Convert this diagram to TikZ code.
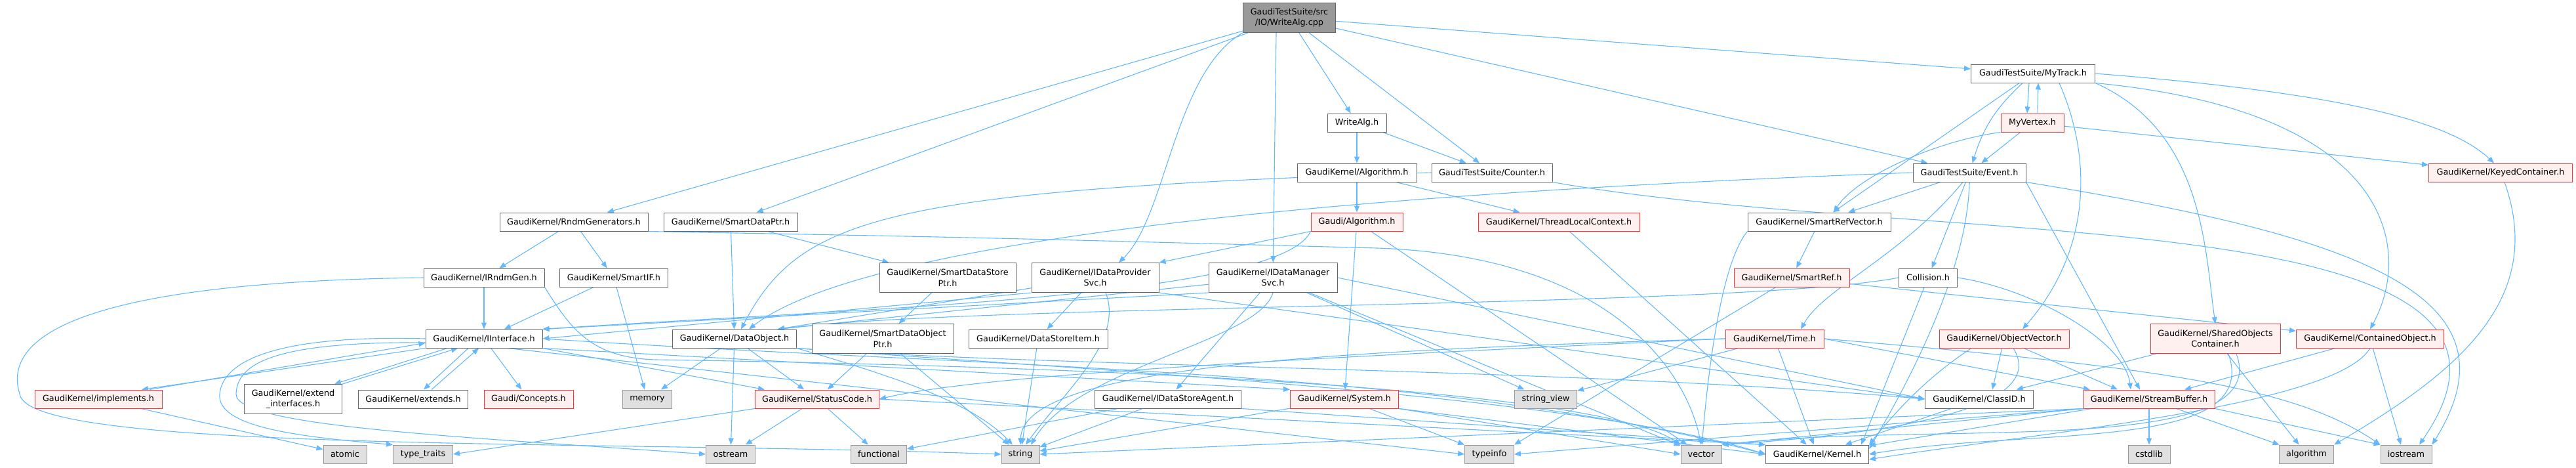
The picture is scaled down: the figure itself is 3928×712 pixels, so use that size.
\documentclass[tikz,border=0pt]{standalone}
\usepackage{fontspec}
\setmainfont{DejaVu Sans}
\usetikzlibrary{arrows.meta,backgrounds}

\definecolor{edgeblue}{HTML}{63B8FF}
\definecolor{boxgray}{HTML}{666666}
\definecolor{sysgray}{HTML}{999999}
\definecolor{sysfill}{HTML}{E0E0E0}
\definecolor{redfill}{HTML}{FFF0F0}
\definecolor{redline}{HTML}{FF3333}

\begin{document}
\begin{tikzpicture}[x=0.5pt,y=-0.5pt,>={Triangle[length=5pt,width=4pt]},
  box/.style={draw=boxgray,fill=white,line width=0.5pt,inner sep=0pt,minimum height=14pt,align=center,font=\fontsize{6.4}{8.2}\selectfont},
  redbox/.style={box,draw=redline,fill=redfill},
  sysbox/.style={box,draw=sysgray,fill=sysfill},
  mainbox/.style={box,fill=sysgray},
  tall/.style={minimum height=22.5pt},
  edge/.style={->,draw=edgeblue,line width=0.55pt}]
\useasboundingbox (0,0) rectangle (3928,712);

% top rows
\node[mainbox,tall,minimum width=70.5pt] (main) at (1966,27) {GaudiTestSuite/src\\/IO/WriteAlg.cpp};
\node[box,minimum width=94.5pt] (mytrack) at (3100,112) {GaudiTestSuite/MyTrack.h};
\node[box,minimum width=45pt] (writealgh) at (2069,187) {WriteAlg.h};
\node[redbox,minimum width=48pt] (myvertex) at (3099,187) {MyVertex.h};
\node[box,minimum width=91pt] (kalgo) at (2069,263) {GaudiKernel/Algorithm.h};
\node[box,minimum width=92pt] (counter) at (2275,263) {GaudiTestSuite/Counter.h};
\node[box,minimum width=86pt] (event) at (3003,263) {GaudiTestSuite/Event.h};
\node[redbox,minimum width=109.5pt] (keyed) at (3813,263) {GaudiKernel/KeyedContainer.h};
\node[box,minimum width=113pt] (rndmgens) at (875,338) {GaudiKernel/RndmGenerators.h};
\node[box,minimum width=102pt] (sdptr) at (1114,338) {GaudiKernel/SmartDataPtr.h};
\node[redbox,minimum width=70pt] (galgo) at (2069,338) {Gaudi/Algorithm.h};
\node[redbox,minimum width=123pt] (tlc) at (2377,338) {GaudiKernel/ThreadLocalContext.h};
\node[box,minimum width=109pt] (srefvec) at (2774,338) {GaudiKernel/SmartRefVector.h};

% middle rows
\node[box,minimum width=92pt] (irndm) at (738,423) {GaudiKernel/IRndmGen.h};
\node[box,minimum width=82.5pt] (smartif) at (936,423) {GaudiKernel/SmartIF.h};
\node[box,tall,minimum width=104pt] (sdsptr) at (1445,423) {GaudiKernel/SmartDataStore\\Ptr.h};
\node[box,tall,minimum width=97pt] (idps) at (1670,423) {GaudiKernel/IDataProvider\\Svc.h};
\node[box,tall,minimum width=98pt] (idms) at (1941,423) {GaudiKernel/IDataManager\\Svc.h};
\node[redbox,minimum width=88pt] (smartref) at (2732,423) {GaudiKernel/SmartRef.h};
\node[box,minimum width=44.5pt] (collision) at (2940,423) {Collision.h};
\node[box,minimum width=89pt] (iiface) at (738,516) {GaudiKernel/IInterface.h};
\node[box,minimum width=94.5pt] (dataobj) at (1120,516) {GaudiKernel/DataObject.h};
\node[box,tall,minimum width=108pt] (sdoptr) at (1346,516) {GaudiKernel/SmartDataObject\\Ptr.h};
\node[box,minimum width=106pt] (dsitem) at (1583,516) {GaudiKernel/DataStoreItem.h};
\node[redbox,minimum width=75pt] (time) at (2706,516) {GaudiKernel/Time.h};
\node[redbox,minimum width=99pt] (objvec) at (3056,516) {GaudiKernel/ObjectVector.h};
\node[redbox,tall,minimum width=99pt] (soc) at (3378,516) {GaudiKernel/SharedObjects\\Container.h};
\node[redbox,minimum width=112.5pt] (contobj) at (3614,516) {GaudiKernel/ContainedObject.h};

% lower rows
\node[redbox,minimum width=97pt] (implements) at (150,608) {GaudiKernel/implements.h};
\node[box,tall,minimum width=74.5pt] (extendif) at (447,608) {GaudiKernel/extend\\\_interfaces.h};
\node[box,minimum width=83.5pt] (extends) at (630,608) {GaudiKernel/extends.h};
\node[redbox,minimum width=68pt] (concepts) at (806,608) {Gaudi/Concepts.h};
\node[sysbox,minimum width=37.5pt] (memory) at (987,608) {memory};
\node[redbox,minimum width=94.5pt] (statuscode) at (1246,608) {GaudiKernel/StatusCode.h};
\node[box,minimum width=111.5pt] (idsagent) at (1781,608) {GaudiKernel/IDataStoreAgent.h};
\node[redbox,minimum width=82.5pt] (system) at (2050,608) {GaudiKernel/System.h};
\node[sysbox,minimum width=47.5pt] (stringview) at (2357,608) {string\_view};
\node[box,minimum width=82.5pt] (classid) at (3018,608) {GaudiKernel/ClassID.h};
\node[redbox,minimum width=100pt] (streambuf) at (3277,608) {GaudiKernel/StreamBuffer.h};
\node[sysbox,minimum width=33pt] (atomic) at (526,692) {atomic};
\node[sysbox,minimum width=45.5pt] (typetraits) at (645,692) {type\_traits};
\node[sysbox,minimum width=37.5pt] (ostream) at (1114,692) {ostream};
\node[sysbox,minimum width=42.5pt] (functional) at (1340,692) {functional};
\node[sysbox,minimum width=29pt] (string) at (1556,692) {string};
\node[sysbox,minimum width=37.5pt] (typeinfo) at (2271,692) {typeinfo};
\node[sysbox,minimum width=31pt] (vector) at (2594,692) {vector};
\node[box,minimum width=78.5pt] (kernel) at (2771,692) {GaudiKernel/Kernel.h};
\node[sysbox,minimum width=32pt] (cstdlib) at (3277,692) {cstdlib};
\node[sysbox,minimum width=41.5pt] (algorithm) at (3517,692) {algorithm};
\node[sysbox,minimum width=39pt] (iostream) at (3669,692) {iostream};

\begin{scope}[on background layer]
% WriteAlg.cpp
\draw[edge] (main) -- (rndmgens);
\draw[edge] (main) -- (sdptr);
\draw[edge] (main.south west) .. controls (1790,110) and (1779,330) .. ([xshift=18pt]idps.north);
\draw[edge] ([xshift=-10pt]main.south) -- (idms);
\draw[edge] (main) -- (writealgh);
\draw[edge] (main) -- (counter);
\draw[edge] (main) -- (event);
\draw[edge] (main) -- (mytrack);
% WriteAlg.h, algorithms
\draw[edge] (writealgh) -- (kalgo);
\draw[edge] (writealgh) -- (counter);
\draw[edge] (kalgo) -- (galgo);
\draw[edge] (kalgo) -- (tlc);
\draw[edge] (galgo) -- (idps.north east);
\draw[edge] (galgo.south west) .. controls (1950,455) and (1300,470) .. (iiface.north east);
\draw[edge] (galgo) -- (system);
\draw[edge] (galgo) -- (vector);
\draw[edge] (tlc) -- (kernel);
% Counter.h
\draw[edge] (counter.west) .. controls (1350,290) and (1220,330) .. ([xshift=5pt]dataobj.north);
\draw[edge] (counter.south east) .. controls (2950,380) and (3950,300) .. ([xshift=10pt]iostream.north);
% MyTrack.h, MyVertex.h
\draw[edge] ([xshift=-3pt]mytrack.south) -- ([xshift=-4pt]myvertex.north);
\draw[edge] ([xshift=4pt]myvertex.north) -- ([xshift=4pt]mytrack.south);
\draw[edge] (mytrack) to[bend right=15] (event);
\draw[edge] (mytrack) -- (srefvec);
\draw[edge] (mytrack.east) .. controls (3550,140) and (3730,180) .. ([xshift=-5pt]keyed.north);
\draw[edge] (mytrack.south east) .. controls (3650,170) and (3680,380) .. (contobj.north);
\draw[edge] (mytrack.south east) .. controls (3360,200) and (3362,380) .. (soc.north);
\draw[edge] ([xshift=20pt]mytrack.south) .. controls (3190,240) and (3190,380) .. ([xshift=14pt]objvec.north);
\draw[edge] (myvertex) -- (event);
\draw[edge] (myvertex) -- (keyed);
\draw[edge] (myvertex.south west) .. controls (2950,215) and (2830,270) .. ([xshift=11pt]srefvec.north);
% Event.h
\draw[edge] (event.west) .. controls (1900,300) and (1300,380) .. ([xshift=11pt]dataobj.north);
\draw[edge] (event) -- (srefvec);
\draw[edge] ([xshift=-5pt]event.south) .. controls (2900,390) and (2780,440) .. ([xshift=20pt]time.north);
\draw[edge] (event) -- (collision);
\draw[edge] (event.south) .. controls (3000,420) and (2900,600) .. ([yshift=4pt]kernel.east);
\draw[edge] (event.south east) -- ([xshift=-7pt]streambuf.north);
\draw[edge] (event.south east) .. controls (3600,360) and (3850,450) .. (iostream.north east);
\draw[edge] ([xshift=3pt]keyed.south) .. controls (3880,450) and (3760,560) .. (algorithm.north east);
% Collision.h
\draw[edge] (collision.west) .. controls (2650,470) and (1500,462) .. ([xshift=33pt]dataobj.north);
\draw[edge] (collision.east) .. controls (3100,440) and (3240,520) .. ([xshift=-14pt]streambuf.north);
\draw[edge] (collision) -- ([xshift=-6pt]kernel.north east);
% SmartRefVector.h, SmartRef.h
\draw[edge] (srefvec) -- (smartref);
\draw[edge] (srefvec.south west) .. controls (2625,400) and (2605,560) .. (vector);
\draw[edge] (smartref) -- (contobj);
\draw[edge] (smartref) -- (typeinfo.north east);
% containers
\draw[edge] (objvec) -- ([xshift=10pt]classid.north);
\draw[edge] ([xshift=15pt]objvec.south) -- ([xshift=-24pt]streambuf.north);
\draw[edge] ([xshift=-25pt]objvec.south) .. controls (2930,580) and (2880,640) .. (kernel.north east);
\draw[edge] ([xshift=7pt]objvec.south) .. controls (3125,620) and (2900,660) .. (vector.north east);
\draw[edge] (soc) -- (classid);
\draw[edge] (soc) -- (algorithm);
\draw[edge] ([xshift=10pt]soc.south) .. controls (3450,690) and (3100,650) .. (kernel.east);
\draw[edge] ([xshift=16pt]soc.south) .. controls (3470,700) and (2950,640) .. (vector.north east);
\draw[edge] (contobj) -- ([xshift=27pt]streambuf.north);
\draw[edge] (contobj) -- ([xshift=-4pt]iostream.north);
\draw[edge] (contobj.south) .. controls (3560,620) and (3100,660) .. ([yshift=-4pt]kernel.east);
% StreamBuffer.h
\draw[edge] (streambuf) -- (cstdlib);
\draw[edge] (streambuf) -- (algorithm);
\draw[edge] (streambuf.south east) -- (iostream.north west);
\draw[edge] (streambuf) -- (kernel);
\draw[edge] (streambuf.south west) -- (vector.north east);
\draw[edge] (streambuf.south west) -- (typeinfo.east);
\draw[edge] (streambuf.south west) -- (string.east);
% ClassID.h, Time.h, System.h
\draw[edge] (classid) -- (kernel);
\draw[edge] (time) -- (kernel);
\draw[edge] (time) -- (stringview);
\draw[edge] (time.west) .. controls (2000,535) and (1560,560) .. (string.north);
\draw[edge] (time.west) .. controls (2000,545) and (1500,570) .. (statuscode.east);
\draw[edge] (time.east) -- ([xshift=-45pt]streambuf.north);
\draw[edge] (time.east) .. controls (3300,560) and (3500,590) .. (iostream.north west);
\draw[edge] (system) -- (typeinfo);
\draw[edge] (system.south east) -- (kernel.west);
\draw[edge] (system.south east) -- (vector.west);
\draw[edge] (system) -- (string);
% data services
\draw[edge] (idms) -- ([xshift=33pt]dataobj.north);
\draw[edge] (idms.south west) -- (iiface.north east);
\draw[edge] (idms) -- (idsagent);
\draw[edge] (idms) -- (stringview);
\draw[edge] (idms) -- (vector);
\draw[edge] (idms.east) -- (classid.west);
\draw[edge] (idms.south) .. controls (1920,520) and (1640,560) .. ([xshift=8pt]string.north);
\draw[edge] (idps) -- ([xshift=33pt]dataobj.north);
\draw[edge] (idps.south west) -- (iiface.east);
\draw[edge] (idps) -- (dsitem);
\draw[edge] ([xshift=8pt]idps.south) .. controls (1715,520) and (1620,600) .. ([xshift=4pt]string.north);
\draw[edge] (idps.south east) -- (classid.west);
\draw[edge] (idsagent) -- (string);
\draw[edge] (idsagent) -- (functional);
\draw[edge] (idsagent.south east) -- (kernel.north west);
\draw[edge] (dsitem) -- (string);
\draw[edge] (sdoptr) -- (statuscode);
\draw[edge] (sdoptr) -- (string);
\draw[edge] (sdsptr) -- (sdoptr);
\draw[edge] (sdptr) -- (dataobj);
\draw[edge] (sdptr) -- (sdsptr);
% DataObject.h, StatusCode.h
\draw[edge] (dataobj) -- (memory);
\draw[edge] (dataobj) -- (ostream);
\draw[edge] (dataobj) -- (statuscode);
\draw[edge] (dataobj.south east) .. controls (1350,570) and (1480,610) .. ([xshift=-6pt]string.north);
\draw[edge] (dataobj.south east) .. controls (1600,560) and (2400,560) .. (classid.west);
\draw[edge] (dataobj.south east) .. controls (1600,560) and (2400,600) .. (kernel.west);
\draw[edge] (statuscode) -- (ostream);
\draw[edge] (statuscode) -- (functional);
\draw[edge] (statuscode.south west) -- (typetraits.east);
\draw[edge] (statuscode.east) -- (kernel.north west);
% IInterface.h
\draw[edge] (iiface.south west) -- ([xshift=33pt]implements.north);
\draw[edge] ([xshift=39pt]implements.north) -- ([yshift=4pt]iiface.south west);
\draw[edge] ([xshift=-28pt]iiface.south) -- ([xshift=-6pt]extendif.north east);
\draw[edge] (extendif.north east) -- ([xshift=-20pt]iiface.south);
\draw[edge] ([xshift=-12pt]iiface.south) -- ([xshift=8pt]extends.north);
\draw[edge] ([xshift=14pt]extends.north) -- ([xshift=-4pt]iiface.south);
\draw[edge] (iiface) -- (concepts);
\draw[edge] (iiface.west) .. controls (420,510) and (340,550) .. (335,600) .. controls (330,650) and (450,665) .. (typetraits.north west);
\draw[edge] ([yshift=-3pt]iiface.west) .. controls (400,520) and (362,560) .. (360,600) .. controls (358,650) and (700,665) .. (ostream.west);
\draw[edge] (iiface.south east) -- ([xshift=-40pt]statuscode.north);
\draw[edge] (iiface.east) .. controls (1500,560) and (2200,560) .. (kernel.west);
\draw[edge] (iiface.south east) -- (system.north west);
\draw[edge] ([xshift=18pt]iiface.south) -- (typeinfo.west);
% random generators
\draw[edge] (rndmgens) -- (irndm);
\draw[edge] (rndmgens) -- (smartif);
\draw[edge] (rndmgens.south east) .. controls (1500,362) .. (2100,378) .. controls (2450,390) and (2570,560) .. (vector.north);
\draw[edge] (irndm) -- (iiface);
\draw[edge] (irndm.west) .. controls (100,430) and (5,520) .. (30,600) .. controls (40,690) and (900,670) .. (string.west);
\draw[edge] (irndm.south east) .. controls (870,500) and (900,545) .. (1000,548) .. controls (1800,560) and (2450,600) .. (vector.north west);
\draw[edge] (smartif) -- (iiface);
\draw[edge] (smartif) -- (memory);
\draw[edge] (implements) -- (atomic);
\end{scope}
\end{tikzpicture}
\end{document}
